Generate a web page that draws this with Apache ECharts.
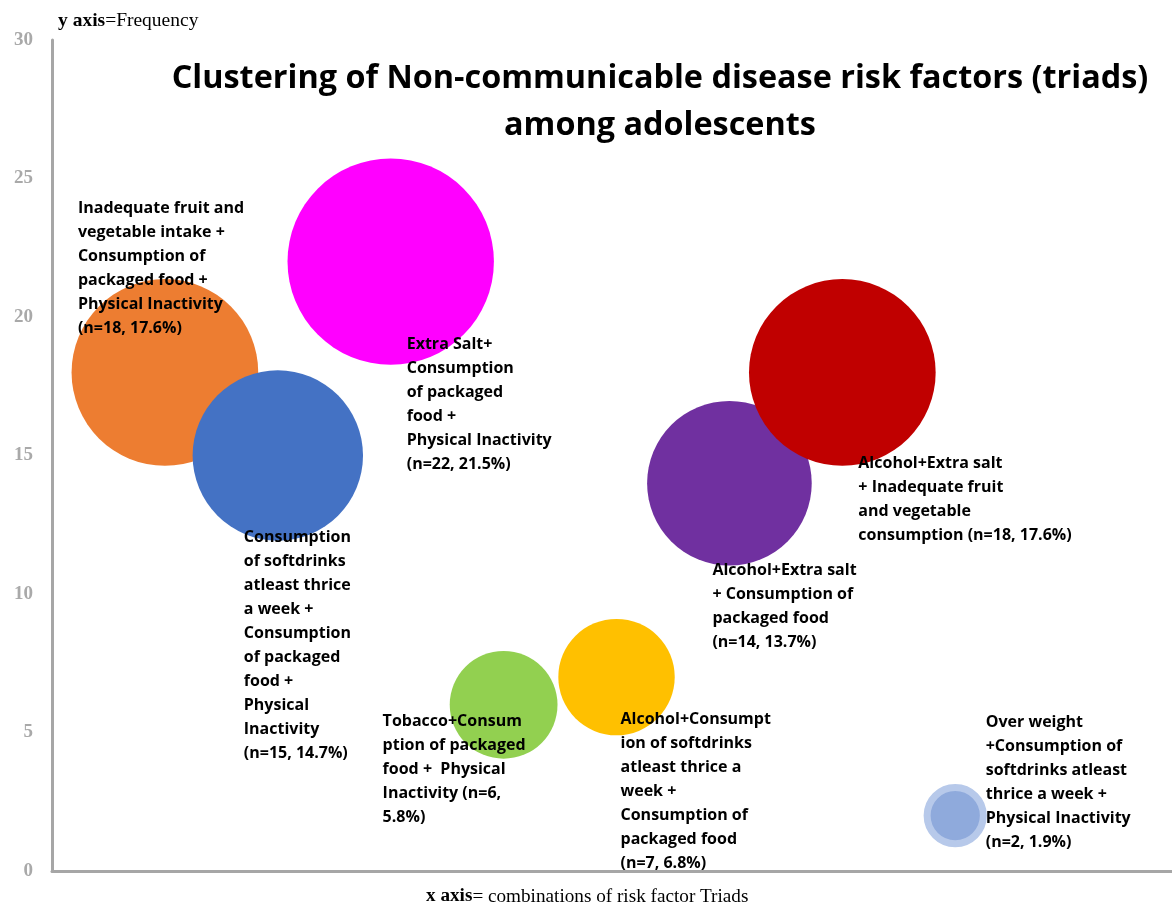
<!DOCTYPE html>
<html>
<head>
<meta charset="utf-8">
<script src="https://cdn.jsdelivr.net/npm/echarts@6/dist/echarts.min.js"></script>
<style>
html,body{margin:0;padding:0;background:#fff;}
#chart{width:1172px;height:909px;}
</style>
</head>
<body>
<div id="chart"></div>
<script>
// ---- data ----
var positions = [1, 2, 3, 4, 5, 6, 7, 8];
var counts = [18, 15, 22, 6, 7, 14, 18, 2];
var percents = ['17.6%', '14.7%', '21.5%', '5.8%', '6.8%', '13.7%', '17.6%', '1.9%'];
var labels = [
  'Inadequate fruit and\nvegetable intake +\nConsumption of\npackaged food +\nPhysical Inactivity\n',
  'Consumption\nof softdrinks\natleast thrice\na week +\nConsumption\nof packaged\nfood +\nPhysical\nInactivity\n',
  'Extra Salt+\nConsumption\nof packaged\nfood +\nPhysical Inactivity\n',
  'Tobacco+Consum\nption of packaged\nfood +  Physical\nInactivity ',
  'Alcohol+Consumpt\nion of softdrinks\natleast thrice a\nweek +\nConsumption of\npackaged food\n',
  'Alcohol+Extra salt\n+ Consumption of\npackaged food\n',
  'Alcohol+Extra salt\n+ Inadequate fruit\nand vegetable\nconsumption ',
  'Over weight\n+Consumption of\nsoftdrinks atleast\nthrice a week +\nPhysical Inactivity\n'
];
var nBreakInside = [false, false, false, true, false, false, false, false]; // "(n=6,\n5.8%)"
var yTicks = [0, 5, 10, 15, 20, 25, 30];

// ---- style ----
var colors = ['#ED7D31', '#4472C4', '#FF00FF', '#92D050', '#FFC000', '#7030A0', '#C00000', '#8FAADC'];
// label text top-left relative to bubble centre (px)
var labelOffsets = [[-87, -176], [-34, 70], [16, 71], [-121, 5], [4, 30], [-17, 75], [16, 79], [34, -102]];
var SIZE_K = 44;

function bubbleDiameter(n) { return SIZE_K * Math.sqrt(n); }

var chart = echarts.init(document.getElementById('chart'));

var data = positions.map(function (x, i) {
  var nText = nBreakInside[i]
    ? '(n=' + counts[i] + ',\n' + percents[i] + ')'
    : '(n=' + counts[i] + ', ' + percents[i] + ')';
  var d = bubbleDiameter(counts[i]) - (i === 7 ? 6 : 0);
  var r = d / 2;
  var item = {
    value: [x, counts[i]],
    itemStyle: { color: colors[i], opacity: 1 },
    label: {
      show: true,
      position: [r + labelOffsets[i][0], r + labelOffsets[i][1]],
      align: 'left',
      verticalAlign: 'top',
      formatter: labels[i] + nText,
      fontFamily: 'Open Sans',
      fontWeight: 'bold',
      fontSize: 16,
      lineHeight: 24,
      color: '#000'
    }
  };
  if (i === 7) {
    item.itemStyle.borderColor = '#B7C9EA';
    item.itemStyle.borderWidth = 7;
  }
  return item;
});

var option = {
  backgroundColor: '#fff',
  animation: false,
  title: [
    {
      text: 'Clustering of Non-communicable disease risk factors (triads)\namong adolescents',
      left: 655,
      textAlign: 'center',
      top: 50,
      textStyle: { fontFamily: 'Open Sans', fontWeight: 'bold', fontSize: 32.4, lineHeight: 47, color: '#000' }
    },
    {
      text: '{b|y axis}{r|=Frequency}',
      left: 53,
      top: 6,
      textStyle: {
        rich: {
          b: { fontFamily: 'Liberation Serif', fontWeight: 'bold', fontSize: 19.5, color: '#000' },
          r: { fontFamily: 'Liberation Serif', fontWeight: 'normal', fontSize: 19.5, color: '#000' }
        }
      }
    },
    {
      text: '{b|x axis}{r|= combinations of risk factor Triads}',
      left: 421,
      top: 882,
      textStyle: {
        rich: {
          b: { fontFamily: 'Liberation Serif', fontWeight: 'bold', fontSize: 19.2, color: '#000' },
          r: { fontFamily: 'Liberation Serif', fontWeight: 'normal', fontSize: 19.2, color: '#000' }
        }
      }
    }
  ],
  grid: { left: 52, right: 0, top: 40, bottom: 38, containLabel: false },
  xAxis: {
    type: 'value',
    min: 0,
    max: 9.92,
    axisLine: { show: true, lineStyle: { color: '#A6A6A6', width: 3 } },
    axisTick: { show: false },
    axisLabel: { show: false },
    splitLine: { show: false }
  },
  yAxis: {
    type: 'value',
    min: yTicks[0],
    max: yTicks[yTicks.length - 1],
    interval: yTicks[1] - yTicks[0],
    axisLine: { show: true, lineStyle: { color: '#A6A6A6', width: 3 } },
    axisTick: { show: false },
    axisLabel: {
      margin: 19,
      fontFamily: 'Liberation Serif',
      fontWeight: 'bold',
      fontSize: 19,
      color: '#A9A9A9'
    },
    splitLine: { show: false }
  },
  series: [{
    type: 'scatter',
    data: data,
    symbolSize: function (val, params) {
      return bubbleDiameter(val[1]) - (params.dataIndex === 7 ? 6 : 0);
    },
    emphasis: { disabled: true },
    labelLayout: { hideOverlap: false }
  }]
};
chart.setOption(option);
</script>
</body>
</html>
